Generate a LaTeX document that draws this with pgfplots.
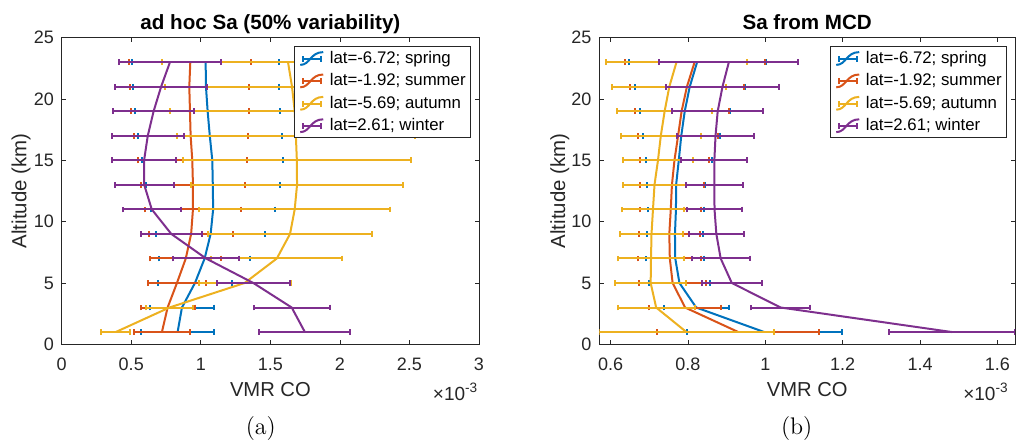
\documentclass[border=0pt]{standalone}
\usepackage{fontspec}
\usepackage{pgfplots}
\usepackage{pgfplotstable}
\pgfplotsset{compat=1.18}
\newfontfamily\arial{Liberation Sans}
\definecolor{cB}{rgb}{0,0.447,0.741}
\definecolor{cO}{rgb}{0.85,0.325,0.098}
\definecolor{cY}{rgb}{0.929,0.694,0.125}
\definecolor{cP}{rgb}{0.494,0.184,0.556}
\definecolor{axc}{rgb}{0.15,0.15,0.15}

% left panel: ad hoc Sa (values x 1e-3), e = half width of error bar
\pgfplotstableread{
y x e
1 0.8333 0.2638
3 0.8645 0.2326
5 0.9580 0.2662
7 1.0276 0.3285
9 1.0707 0.3933
11 1.0887 0.4472
13 1.0863 0.4832
15 1.0827 0.5060
17 1.0647 0.5168
19 1.0492 0.5204
21 1.0372 0.5276
23 1.0348 0.5300
}\LB
\pgfplotstableread{
y x e
1 0.7206 0.2038
3 0.7614 0.1942
5 0.8285 0.2110
7 0.8921 0.2554
9 0.9305 0.3034
11 0.9436 0.3429
13 0.9436 0.3717
15 0.9388 0.3933
17 0.9269 0.4101
19 0.9221 0.4221
21 0.9173 0.4293
23 0.9245 0.4388
}\LO
\pgfplotstableread{
y x e
1 0.3885 0.1043
3 0.7746 0.1667
5 1.3153 0.3309
7 1.5468 0.4712
9 1.6415 0.5899
11 1.6751 0.6882
13 1.6918 0.7602
15 1.6906 0.8189
17 1.6835 0.8549
19 1.6750 0.8945
21 1.6559 0.9113
23 1.6271 0.9065
}\LY
\pgfplotstableread{
y x e
1 1.7482 0.3273
3 1.6535 0.2722
5 1.3777 0.2614
7 1.0372 0.2398
9 0.7878 0.2206
11 0.6475 0.2098
13 0.5935 0.2134
15 0.5923 0.2314
17 0.6187 0.2578
19 0.6607 0.2926
21 0.7146 0.3297
23 0.7782 0.3645
}\LP
% right panel: Sa from MCD
\pgfplotstableread{
y x e
1 0.9972 0.2003
3 0.8214 0.0838
5 0.7780 0.0791
7 0.7672 0.0744
9 0.7664 0.0735
11 0.7690 0.0718
13 0.7694 0.0748
15 0.7763 0.0860
17 0.7827 0.0993
19 0.7917 0.1161
21 0.8046 0.1419
23 0.8236 0.1771
}\RB
\pgfplotstableread{
y x e
1 0.9302 0.2098
3 0.7926 0.0937
5 0.7604 0.0873
7 0.7531 0.0817
9 0.7518 0.0787
11 0.7556 0.0791
13 0.7586 0.0821
15 0.7651 0.0903
17 0.7745 0.1040
19 0.7836 0.1217
21 0.7973 0.1466
23 0.8171 0.1810
}\RO
\pgfplotstableread{
y x e
1 0.7960 0.2253
3 0.7178 0.0997
5 0.7036 0.0924
7 0.7045 0.0856
9 0.7058 0.0817
11 0.7096 0.0804
13 0.7135 0.0825
15 0.7225 0.0916
17 0.7298 0.1032
19 0.7397 0.1225
21 0.7518 0.1475
23 0.7703 0.1823
}\RY
\pgfplotstableread{
y x e
1 1.4822 0.1634
3 1.0394 0.0765
5 0.9134 0.0770
7 0.8846 0.0748
9 0.8734 0.0714
11 0.8687 0.0709
13 0.8683 0.0739
15 0.8683 0.0851
17 0.8713 0.0985
19 0.8769 0.1178
21 0.8893 0.1449
23 0.9057 0.1801
}\RP

\pgfplotsset{
  myaxis/.style={
    scale only axis, height=153.3pt,
    ymin=0, ymax=25, ytick={0,5,...,25},
    tick align=inside, major tick length=2.2pt,
    axis line style={axc, line width=0.4pt},
    every tick/.style={axc, line width=0.4pt},
    /pgf/number format/assume math mode=true,
    ticklabel style={font=\arial\fontsize{9}{10}\selectfont, text=axc},
    xticklabel style={anchor=base, yshift=-13.2pt},
    yticklabel style={anchor=east, inner sep=0pt, xshift=-3.7pt},
    legend cell align=left,
    legend style={at={(1,1)}, anchor=north east, xshift=-4.25pt, yshift=-4.25pt,
      draw=axc, line width=0.4pt, fill=white,
      font=\arial\fontsize{8.4}{10}\selectfont,
      inner xsep=2.2pt, inner ysep=0.35pt, row sep=0pt, column sep=2.8pt,
      nodes={inner xsep=0pt, inner ysep=1.6pt, text height=6.4pt, text depth=1.6pt}},
    legend image code/.code={
      \draw[line width=1pt,#1] (0pt,-3.2pt) .. controls (5pt,-3.2pt) and (5pt,3.2pt) .. (11.5pt,3.2pt);
      \draw[line width=1pt,#1] (1.6pt,-0.1pt) -- (10.4pt,-0.1pt);
      \draw[line width=1pt,#1] (1.6pt,-1.6pt) -- (1.6pt,1.4pt);
      \draw[line width=1pt,#1] (10.4pt,-1.6pt) -- (10.4pt,1.4pt);
    },
  },
  ebar/.style={color=#1, line width=1pt, mark=none, solid,
    error bars/x dir=both, error bars/x explicit,
    error bars/error mark=|,
    error bars/error bar style={line width=1pt, color=#1, solid},
    error bars/error mark options={line width=1pt, mark size=1.45pt, color=#1, solid}},
}

\begin{document}
\begin{tikzpicture}
\useasboundingbox (0,0) rectangle (509pt,220.5pt);

\begin{axis}[myaxis, name=L, at={(30.85pt,48.35pt)}, anchor=south west,
  width=208.65pt, xmin=0, xmax=3, xtick={0,0.5,...,3}]
\addplot[ebar=cB] table[x=x, y=y, x error=e] {\LB};
\addlegendentry{lat=-6.72; spring\hspace{1.6pt}}
\addplot[ebar=cO] table[x=x, y=y, x error=e] {\LO};
\addlegendentry{lat=-1.92; summer}
\addplot[ebar=cY] table[x=x, y=y, x error=e] {\LY};
\addlegendentry{lat=-5.69; autumn}
\addplot[ebar=cP] table[x=x, y=y, x error=e] {\LP};
\addlegendentry{lat=2.61; winter}
\end{axis}

\begin{axis}[myaxis, name=R, at={(299.65pt,48.35pt)}, anchor=south west,
  width=207.85pt, xmin=0.5708, xmax=1.6456, xtick={0.6,0.8,1,1.2,1.4,1.6}]
\addplot[ebar=cB] table[x=x, y=y, x error=e] {\RB};
\addlegendentry{lat=-6.72; spring\hspace{1.6pt}}
\addplot[ebar=cO] table[x=x, y=y, x error=e] {\RO};
\addlegendentry{lat=-1.92; summer}
\addplot[ebar=cY] table[x=x, y=y, x error=e] {\RY};
\addlegendentry{lat=-5.69; autumn}
\addplot[ebar=cP] table[x=x, y=y, x error=e] {\RP};
\addlegendentry{lat=2.61; winter}
\end{axis}

% titles
\node[anchor=base, font=\arial\bfseries\fontsize{10.3}{12}\selectfont] at (135.2pt,206pt) {ad hoc Sa (50\% variability)};
\node[anchor=base, font=\arial\bfseries\fontsize{10.3}{12}\selectfont] at (403.6pt,206pt) {Sa from MCD};
% x labels
\node[anchor=base, text=axc, font=\arial\fontsize{10.1}{12}\selectfont] at (135.2pt,22.15pt) {VMR CO};
\node[anchor=base, text=axc, font=\arial\fontsize{10.1}{12}\selectfont] at (403.6pt,22.15pt) {VMR CO};
% exponent labels
\node[anchor=base east, inner sep=0pt, text=axc, font=\arial\fontsize{9.5}{11}\selectfont] at (238.85pt,20.5pt) {×10\raisebox{3.6pt}{\fontsize{6.8}{8}\selectfont -3}};
\node[anchor=base east, inner sep=0pt, text=axc, font=\arial\fontsize{9.5}{11}\selectfont] at (504pt,20.5pt) {×10\raisebox{3.6pt}{\fontsize{6.8}{8}\selectfont -3}};
% y labels
\node[rotate=90, anchor=base, text=axc, font=\arial\fontsize{10.2}{12}\selectfont] at (13.25pt,125pt) {Altitude (km)};
\node[rotate=90, anchor=base, text=axc, font=\arial\fontsize{10.2}{12}\selectfont] at (282.5pt,125pt) {Altitude (km)};
% captions
\node[anchor=base, font=\fontsize{12}{14}\selectfont] at (130.4pt,3.25pt) {(a)};
\node[anchor=base, font=\fontsize{12}{14}\selectfont] at (398.35pt,3.25pt) {(b)};
\end{tikzpicture}
\end{document}
